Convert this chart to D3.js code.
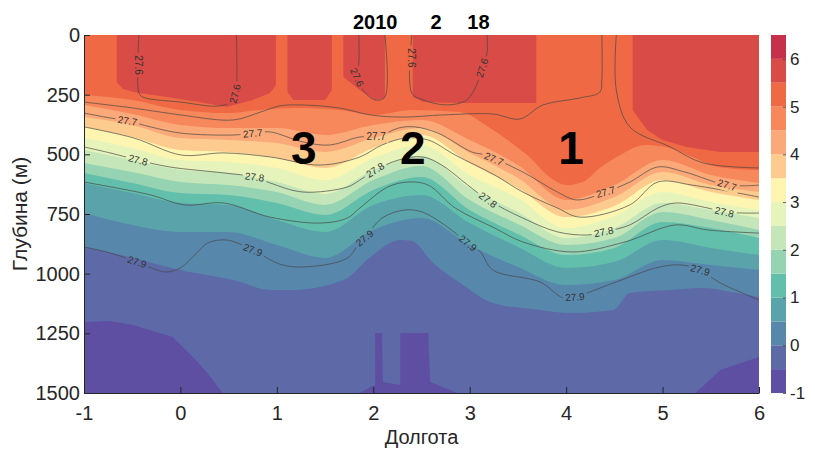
<!DOCTYPE html>
<html>
<head>
<meta charset="utf-8">
<script src="https://cdn.jsdelivr.net/npm/d3@7"></script>
<style>
  body { margin: 0; background: #fff; }
  svg { display: block; font-family: "Liberation Sans", Arial, Helvetica, sans-serif; }
</style>
</head>
<body>
<script>
var width = 815;
var height = 452;
var box = {left: 84, right: 759, top: 35, bottom: 393};

// contour levels (temperature) and the colour of each band between them
var levels = [-1, -0.5, 0, 0.5, 1, 1.5, 2, 2.5, 3, 3.5, 4, 4.5, 5, 5.5, 6, 6.5];
var bandColors = ["#5e4fa2", "#5d6aa7", "#5887ac", "#5aa3ab", "#62bfab", "#96d3b2", "#c4e6b8",
  "#e6f4bb", "#fef5b1", "#fdcb8e", "#fba978", "#f6885b", "#ee6944", "#d84b47", "#c5304a"];

var lonTicks = [-1, 0, 1, 2, 3, 4, 5, 6];
var depthTicks = [0, 250, 500, 750, 1000, 1250, 1500];
var colorbarTicks = [-1, 0, 1, 2, 3, 4, 5, 6];

// isotherm depths (m) on a regular longitude grid
var gridLon = [-1, -0.5, 0, 0.5, 1, 1.5, 2, 2.5, 3, 3.5, 4, 4.5, 5, 5.5, 6];
var iso05 = [746, 796, 825, 825, 880, 934, 817, 767, 880, 972, 1048, 1027, 943, 964, 985];
var iso1  = [620, 662, 704, 712, 775, 825, 712, 670, 788, 888, 976, 951, 859, 892, 922];
var iso15 = [578, 620, 662, 670, 704, 754, 649, 595, 733, 834, 922, 892, 784, 809, 851];
var iso2  = [536, 574, 616, 629, 658, 712, 608, 549, 691, 792, 880, 851, 742, 775, 817];
var iso25 = [482, 524, 566, 578, 616, 666, 566, 507, 641, 742, 851, 809, 704, 733, 767];
var iso3  = [432, 473, 524, 532, 557, 608, 515, 461, 587, 683, 809, 758, 658, 700, 733];
var iso35 = [385, 427, 482, 490, 515, 557, 473, 419, 536, 641, 763, 716, 608, 658, 691];
var iso4  = [344, 377, 432, 440, 453, 490, 432, 390, 494, 599, 733, 679, 574, 629, 658];
var iso45 = [293, 331, 377, 390, 390, 419, 377, 356, 440, 545, 691, 629, 524, 587, 620];

// irregular isotherms as [lon, depth]
var isoM05 = [[-1, 1203], [-0.73, 1198], [-0.49, 1215], [-0.08, 1265], [0.13, 1349], [0.28, 1416], [0.44, 1500],
  [1.86, 1500], [1.97, 1475], [2.02, 1467], [2.02, 1249], [2.09, 1249], [2.10, 1454], [2.28, 1467], [2.28, 1249],
  [2.57, 1249], [2.59, 1454], [2.87, 1500], [5.34, 1500], [5.60, 1404], [6, 1349]];
var iso0 = [[-1, 888], [-0.49, 934], [0, 985], [0.55, 1027], [0.93, 1068], [1.17, 1068], [1.69, 1027], [1.97, 930],
  [2.28, 859], [2.40, 863], [2.62, 955], [2.90, 1039], [3.24, 1123], [3.73, 1152], [4.04, 1165], [4.49, 1152],
  [4.66, 1081], [5.08, 1068], [5.42, 1060], [5.77, 1081], [6, 1098]];
var iso5 = [[-1, 251], [-0.5, 272], [0, 314], [0.5, 327], [0.83, 314], [1.17, 306], [1.65, 314], [2, 335], [2.41, 314],
  [2.90, 323], [3.21, 390], [3.42, 448], [3.63, 515], [3.80, 587], [4.01, 629], [4.17, 616], [4.35, 557], [4.56, 503],
  [4.82, 461], [5.03, 469], [5.31, 511], [5.57, 553], [6, 566]];
var iso55 = [[-1, 0], [-0.66, 0], [-0.66, 197], [-0.6, 225], [-0.49, 239], [-0.14, 260], [0.20, 281], [0.48, 302],
  [0.75, 272], [0.93, 243], [0.99, 210], [0.99, 0], [1.11, 0], [1.11, 239], [1.17, 272], [1.50, 272], [1.57, 230],
  [1.57, 0], [1.69, 0], [1.69, 176], [1.86, 230], [2.02, 272], [2.12, 264], [2.12, 0], [2.41, 0], [2.41, 260],
  [2.52, 281], [2.90, 285], [3.69, 285], [3.69, 0], [4.69, 0], [4.69, 314], [4.84, 398], [5.00, 440], [5.25, 469],
  [5.60, 490], [6, 490]];

// density (sigma) contour lines as [lon, depth]
var s60a = [[-0.43, 0], [-0.43, 243], [-0.39, 260], [0, 281], [0.41, 297], [0.55, 272], [0.58, 222], [0.58, 0]];
var s60b = [[1.85, 0], [1.85, 117], [1.83, 176], [1.89, 230], [2.02, 272], [2.12, 260], [2.12, 0]];
var s60c = [[2.40, 0], [2.40, 243], [2.52, 272], [2.76, 293], [2.97, 272], [3.08, 201], [3.13, 138], [3.18, 75], [3.18, 0]];
var s65a = [[-1, 281], [-0.49, 306], [0, 335], [0.55, 356], [0.83, 323], [1.03, 297], [1.24, 293], [1.65, 306],
  [1.97, 335], [2.31, 344], [2.72, 335], [3.24, 331], [3.52, 352], [3.76, 293], [4.14, 264], [4.35, 239], [4.37, 189], [4.37, 0]];
var s65b = [[4.52, 0], [4.52, 230], [4.66, 385], [5.08, 469], [5.42, 536], [6, 557]];
var s70 = [[-1, 327], [-0.78, 344], [-0.55, 360], [-0.31, 385], [0, 411], [0.55, 419], [0.77, 411], [0.93, 406],
  [1.27, 448], [1.55, 461], [1.86, 427], [2.04, 427], [2.26, 390], [2.43, 385], [2.67, 411], [3.02, 490], [3.16, 503],
  [3.55, 574], [3.91, 658], [4.11, 691], [4.41, 658], [4.66, 616], [4.95, 553], [5.23, 574], [5.67, 629], [6, 629]];
var s75 = [[-1, 385], [-0.48, 432], [0.01, 503], [0.45, 494], [0.93, 511], [1.45, 545], [1.86, 511], [2.09, 461],
  [2.33, 432], [2.57, 440], [2.85, 503], [3.26, 587], [3.55, 658], [3.91, 725], [4.14, 763], [4.66, 712], [4.95, 616],
  [5.31, 629], [6, 679]];
var s80 = [[-1, 469], [-0.73, 494], [-0.44, 524], [-0.11, 553], [0.45, 578], [0.77, 595], [0.93, 620], [1.27, 658],
  [1.73, 637], [1.86, 608], [2.02, 566], [2.26, 524], [2.51, 511], [2.71, 545], [2.98, 629], [3.19, 691], [3.55, 767],
  [3.91, 825], [4.22, 838], [4.39, 825], [4.66, 796], [4.95, 725], [5.13, 704], [5.47, 725], [5.64, 742], [6, 746]];
var s85 = [[-1, 616], [-0.31, 670], [0.04, 712], [0.45, 704], [0.93, 763], [1.45, 788], [1.73, 767], [1.86, 725],
  [2.15, 637], [2.36, 616], [2.57, 629], [2.85, 725], [3.26, 809], [3.55, 867], [4.07, 909], [4.61, 867], [5.13, 796],
  [5.47, 817], [6, 830]];
var s90 = [[-1, 888], [-0.73, 913], [-0.45, 951], [-0.24, 985], [-0.14, 993], [0, 976], [0.17, 913], [0.28, 872],
  [0.48, 859], [0.75, 901], [1.03, 960], [1.27, 972], [1.73, 935], [1.86, 867], [1.91, 851], [2.09, 767], [2.33, 733],
  [2.51, 742], [2.74, 796], [2.98, 872], [3.11, 909], [3.24, 985], [3.73, 1035], [3.97, 1102], [4.09, 1098],
  [4.49, 1039], [4.97, 972], [5.21, 964], [5.39, 985], [5.60, 1039], [6, 1110]];

// inline contour labels: [line, lon, depth, text]
var sigmaLabels = [
  ["s60a", -0.42, 126, "27.6"], ["s60a", 0.56, 245, "27.6"], ["s60b", 1.84, 176, "27.6"],
  ["s60c", 2.40, 96, "27.6"], ["s60c", 3.13, 138, "27.6"],
  ["s70", -0.55, 360, "27.7"], ["s70", 0.75, 413, "27.7"], ["s70", 2.03, 427, "27.7"],
  ["s70", 3.25, 519, "27.7"], ["s70", 4.41, 658, "27.7"], ["s70", 5.67, 629, "27.7"],
  ["s80", -0.44, 524, "27.8"], ["s80", 0.77, 595, "27.8"], ["s80", 2.02, 566, "27.8"],
  ["s80", 3.19, 691, "27.8"], ["s80", 4.39, 825, "27.8"], ["s80", 5.64, 742, "27.8"],
  ["s90", -0.45, 951, "27.9"], ["s90", 0.75, 901, "27.9"], ["s90", 1.91, 851, "27.9"],
  ["s90", 2.98, 872, "27.9"], ["s90", 4.09, 1098, "27.9"], ["s90", 5.39, 985, "27.9"]
];

// water mass numbers and title parts: [lon, depth, text]
var massLabels = [[1.28, 540, "3"], [2.41, 540, "2"], [4.05, 540, "1"]];
var titleParts = [[2.02, "2010"], [2.65, "2"], [3.09, "18"]];

var x = d3.scaleLinear().domain([-1, 6]).range([box.left, box.right]);
var y = d3.scaleLinear().domain([0, 1500]).range([box.top, box.bottom]);
var cb = d3.scaleLinear().domain([-1, 6.5]).range([box.bottom, box.top]);

var svg = d3.select('body')
  .append('svg')
  .attr('width', width)
  .attr('height', height);

var defs = svg.append('defs');
defs.append('clipPath')
  .attr('id', 'plot-area')
  .append('rect')
  .attr('x', box.left)
  .attr('y', box.top)
  .attr('width', box.right - box.left)
  .attr('height', box.bottom - box.top);

var mask = defs.append('mask')
  .attr('id', 'label-gaps')
  .attr('maskUnits', 'userSpaceOnUse')
  .attr('x', 0).attr('y', 0)
  .attr('width', width).attr('height', height);
mask.append('rect').attr('width', width).attr('height', height).attr('fill', 'white');

var plot = svg.append('g').attr('clip-path', 'url(#plot-area)');

// coldest band underneath everything
plot.append('rect')
  .attr('x', box.left)
  .attr('y', box.top)
  .attr('width', box.right - box.left)
  .attr('height', box.bottom - box.top)
  .attr('fill', bandColors[0]);

var isotherms = [
  {level: -0.5, pts: isoM05, curve: d3.curveLinear},
  {level: 0, pts: iso0, curve: d3.curveMonotoneX},
  {level: 0.5, pts: d3.zip(gridLon, iso05), curve: d3.curveMonotoneX},
  {level: 1, pts: d3.zip(gridLon, iso1), curve: d3.curveMonotoneX},
  {level: 1.5, pts: d3.zip(gridLon, iso15), curve: d3.curveMonotoneX},
  {level: 2, pts: d3.zip(gridLon, iso2), curve: d3.curveMonotoneX},
  {level: 2.5, pts: d3.zip(gridLon, iso25), curve: d3.curveMonotoneX},
  {level: 3, pts: d3.zip(gridLon, iso3), curve: d3.curveMonotoneX},
  {level: 3.5, pts: d3.zip(gridLon, iso35), curve: d3.curveMonotoneX},
  {level: 4, pts: d3.zip(gridLon, iso4), curve: d3.curveMonotoneX},
  {level: 4.5, pts: d3.zip(gridLon, iso45), curve: d3.curveMonotoneX},
  {level: 5, pts: iso5, curve: d3.curveMonotoneX},
  {level: 5.5, pts: iso55, curve: d3.curveLinear}
];

// each band: everything warmer than the level lies above its isotherm
isotherms.forEach(function(iso) {
  var area = d3.area()
    .curve(iso.curve)
    .x(function(d) { return x(d[0]); })
    .y0(y(0))
    .y1(function(d) { return y(d[1]); });
  plot.append('path')
    .datum(iso.pts)
    .attr('d', area)
    .attr('fill', bandColors[levels.indexOf(iso.level)]);
});

// density contour lines
var sigmaLines = {s60a: s60a, s60b: s60b, s60c: s60c, s65a: s65a, s65b: s65b,
  s70: s70, s75: s75, s80: s80, s85: s85, s90: s90};

var line = d3.line()
  .curve(d3.curveCatmullRom.alpha(0.5))
  .x(function(d) { return x(d[0]); })
  .y(function(d) { return y(d[1]); });

plot.append('g')
  .attr('mask', 'url(#label-gaps)')
  .selectAll('path')
  .data(Object.keys(sigmaLines))
  .enter()
  .append('path')
  .attr('d', function(k) { return line(sigmaLines[k]); })
  .attr('fill', 'none')
  .attr('stroke', '#474747')
  .attr('stroke-width', 0.7);

// place a label on the nearest segment of its line, rotated along it
function labelPlace(lab) {
  var pts = sigmaLines[lab[0]].map(function(d) { return [x(d[0]), y(d[1])]; });
  var px = x(lab[1]), py = y(lab[2]);
  var best = null;
  for (var i = 0; i < pts.length - 1; i++) {
    var ax = pts[i][0], ay = pts[i][1], bx = pts[i + 1][0], by = pts[i + 1][1];
    var dx = bx - ax, dy = by - ay;
    var len2 = dx * dx + dy * dy;
    var t = len2 ? ((px - ax) * dx + (py - ay) * dy) / len2 : 0;
    t = Math.max(0, Math.min(1, t));
    var cx = ax + t * dx, cy = ay + t * dy;
    var dist = (cx - px) * (cx - px) + (cy - py) * (cy - py);
    if (!best || dist < best.dist) {
      var ang = Math.atan2(dy, dx) * 180 / Math.PI;
      if (ang > 90) ang -= 180;
      if (ang < -90) ang += 180;
      best = {x: cx, y: cy, angle: ang, dist: dist};
    }
  }
  return best;
}

var labelGroup = plot.append('g');
sigmaLabels.forEach(function(lab) {
  var p = labelPlace(lab);
  var t = labelGroup.append('text')
    .attr('transform', 'translate(' + p.x + ',' + p.y + ') rotate(' + p.angle + ')')
    .attr('text-anchor', 'middle')
    .attr('dy', '0.35em')
    .attr('font-size', 10)
    .attr('fill', '#333')
    .text(lab[3]);
  var w = t.node().getComputedTextLength() + 5;
  mask.append('rect')
    .attr('x', -w / 2).attr('y', -6)
    .attr('width', w).attr('height', 12)
    .attr('fill', 'black')
    .attr('transform', 'translate(' + p.x + ',' + p.y + ') rotate(' + p.angle + ')');
});

// water mass numbers
svg.append('g')
  .selectAll('text')
  .data(massLabels)
  .enter()
  .append('text')
  .attr('x', function(d) { return x(d[0]); })
  .attr('y', function(d) { return y(d[1]); })
  .attr('text-anchor', 'middle')
  .attr('font-size', 46)
  .attr('font-weight', 'bold')
  .attr('fill', '#000')
  .text(function(d) { return d[2]; });

// title
svg.append('g')
  .selectAll('text')
  .data(titleParts)
  .enter()
  .append('text')
  .attr('x', function(d) { return x(d[0]); })
  .attr('y', 29)
  .attr('text-anchor', 'middle')
  .attr('font-size', 20)
  .attr('font-weight', 'bold')
  .attr('fill', '#000')
  .text(function(d) { return d[1]; });

// axes (ticks point inward like MATLAB)
var xAxis = d3.axisBottom(x).tickValues(lonTicks).tickSizeInner(-6).tickSizeOuter(0).tickPadding(13)
  .tickFormat(function(d) { return String(d); });
var yAxis = d3.axisLeft(y).tickValues(depthTicks).tickSizeInner(-6).tickSizeOuter(0).tickPadding(4)
  .tickFormat(function(d) { return String(d); });

var gx = svg.append('g')
  .attr('transform', 'translate(0,' + box.bottom + ')')
  .call(xAxis);
var gy = svg.append('g')
  .attr('transform', 'translate(' + box.left + ',0)')
  .call(yAxis);

[gx, gy].forEach(function(g) {
  g.selectAll('path, line').attr('stroke', '#262626').attr('stroke-width', 1);
  g.selectAll('text').attr('font-size', 20).attr('fill', '#262626')
    .attr('font-family', '"Liberation Sans", Arial, sans-serif');
});

svg.append('text')
  .attr('transform', 'translate(27,' + ((box.top + box.bottom) / 2) + ') rotate(-90)')
  .attr('text-anchor', 'middle')
  .attr('font-size', 21)
  .attr('fill', '#262626')
  .text('Глубина (м)');

svg.append('text')
  .attr('x', (box.left + box.right) / 2)
  .attr('y', 444)
  .attr('text-anchor', 'middle')
  .attr('font-size', 20)
  .attr('fill', '#262626')
  .text('Долгота');

// colorbar
var cbX = 771, cbW = 15;
svg.append('g')
  .selectAll('rect')
  .data(bandColors)
  .enter()
  .append('rect')
  .attr('x', cbX)
  .attr('width', cbW)
  .attr('y', function(d, i) { return cb(levels[i + 1]); })
  .attr('height', function(d, i) { return cb(levels[i]) - cb(levels[i + 1]); })
  .attr('fill', function(d) { return d; });

var cbAxis = d3.axisRight(cb).tickValues(colorbarTicks).tickSizeInner(-3).tickSizeOuter(0).tickPadding(4)
  .tickFormat(function(d) { return String(d); });
var gcb = svg.append('g')
  .attr('transform', 'translate(' + (cbX + cbW) + ',0)')
  .call(cbAxis);
gcb.select('.domain').remove();
gcb.selectAll('line').attr('stroke', '#444').attr('stroke-width', 0.8);
gcb.selectAll('text').attr('font-size', 17).attr('fill', '#262626')
  .attr('font-family', '"Liberation Sans", Arial, sans-serif');
</script>
</body>
</html>
